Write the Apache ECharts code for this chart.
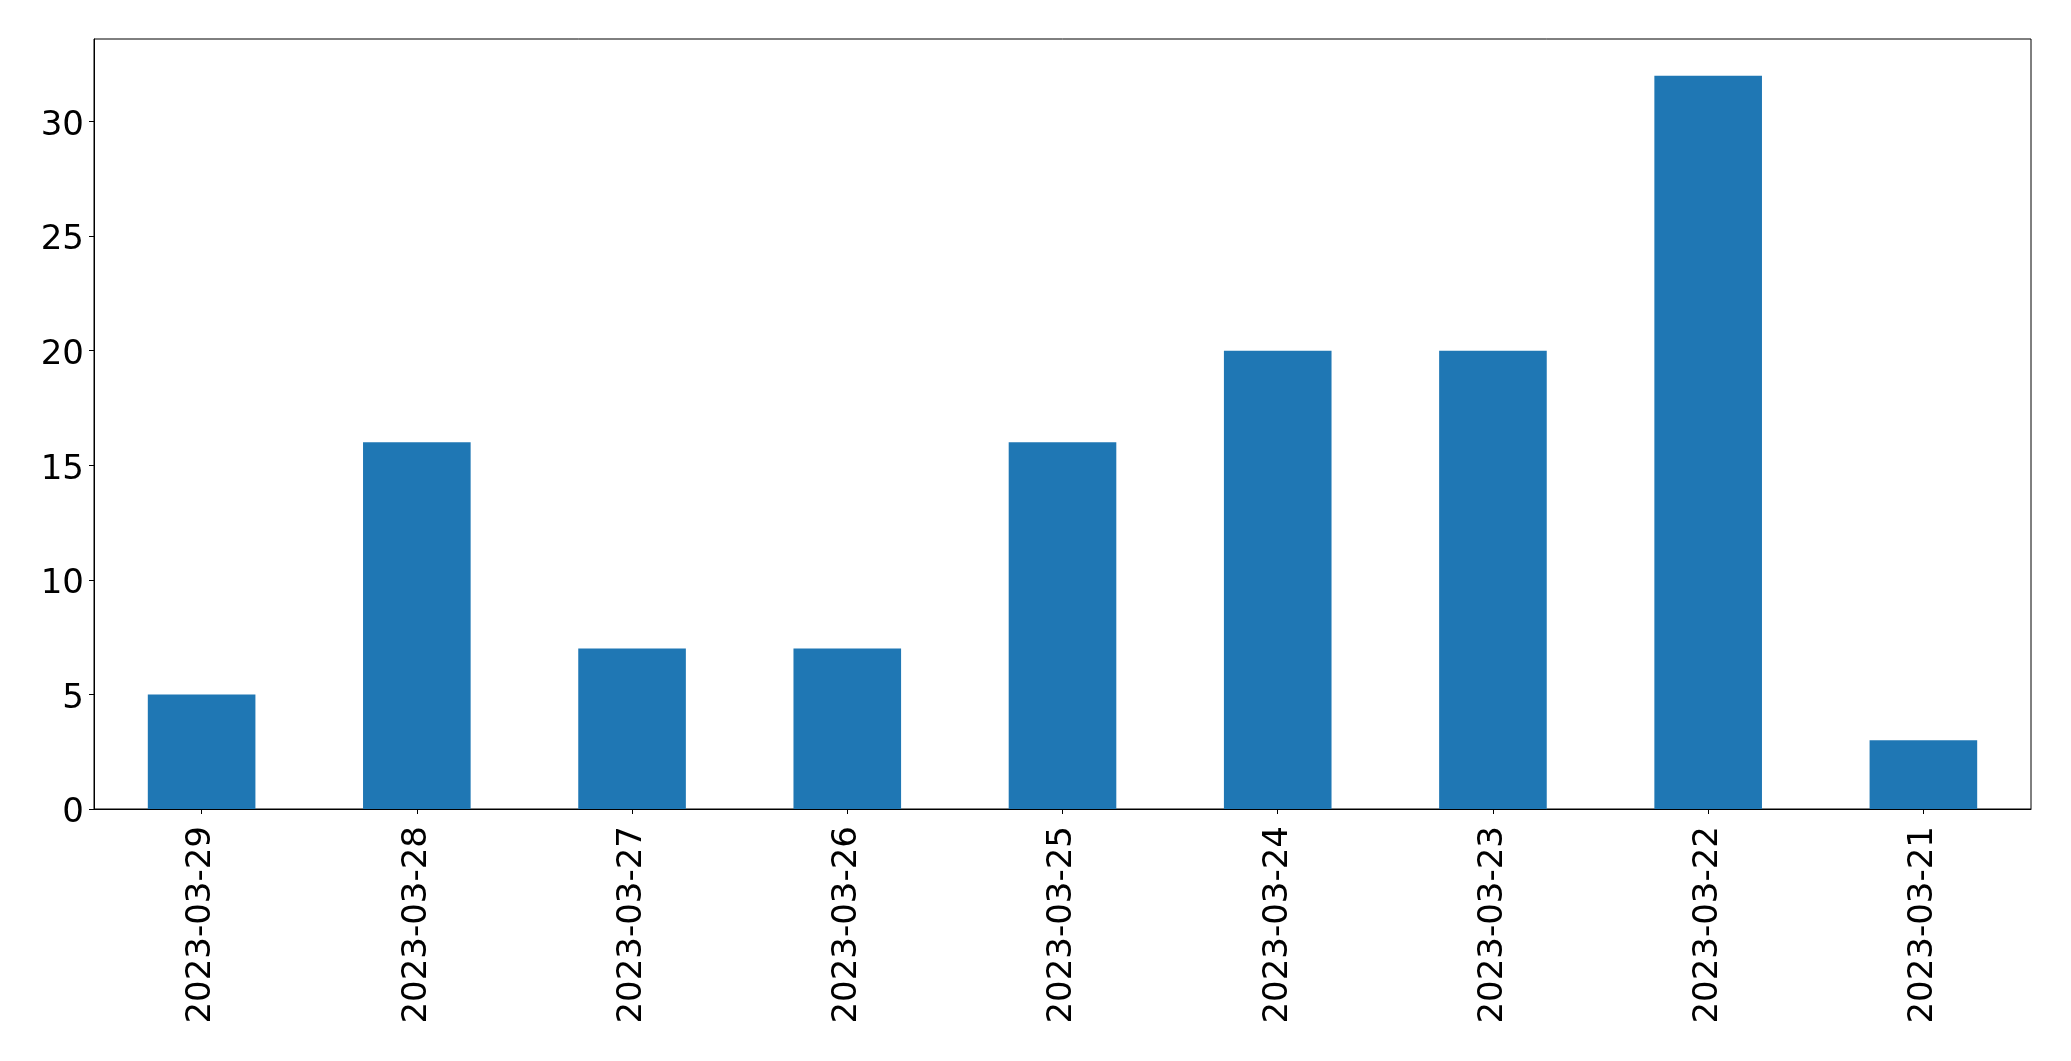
<!DOCTYPE html>
<html>
<head>
<meta charset="utf-8">
<script src="https://cdn.jsdelivr.net/npm/echarts@6/dist/echarts.min.js"></script>
<style>
html,body{margin:0;padding:0;background:#fff;}
#chart{width:2071px;height:1061px;}
</style>
</head>
<body>
<div id="chart"></div>
<script>
const categories = ['2023-03-29','2023-03-28','2023-03-27','2023-03-26','2023-03-25','2023-03-24','2023-03-23','2023-03-22','2023-03-21'];
const values = [5, 16, 7, 7, 16, 20, 20, 32, 3];
const yTicks = [0, 5, 10, 15, 20, 25, 30];

const chart = echarts.init(document.getElementById('chart'));
const font = 'DejaVu Sans';
chart.setOption({
  animation: false,
  backgroundColor: '#fff',
  grid: {
    left: 94, right: 40, top: 39, bottom: 252,
    show: true, borderColor: '#000', borderWidth: 1, backgroundColor: 'transparent'
  },
  xAxis: {
    type: 'category',
    data: categories,
    boundaryGap: true,
    axisLine: { show: true, lineStyle: { color: '#000', width: 1 } },
    axisTick: { show: true, alignWithLabel: true, length: 5, lineStyle: { color: '#000', width: 1 } },
    axisLabel: { rotate: 90, interval: 0, fontFamily: font, fontSize: 34, color: '#000', margin: 17 },
    splitLine: { show: false }
  },
  yAxis: {
    type: 'value',
    min: 0,
    max: 33.6,
    interval: 5,
    axisLine: { show: true, lineStyle: { color: '#000', width: 1 } },
    axisTick: { show: true, length: 5, lineStyle: { color: '#000', width: 1 }, customValues: yTicks },
    axisLabel: {
      fontFamily: font, fontSize: 34, color: '#000', margin: 10, customValues: yTicks,
      formatter: function (v) { return '{a|' + v + '}'; },
      rich: { a: { fontFamily: font, fontSize: 34, color: '#000', padding: [9, 0, 0, 0] } }
    },
    splitLine: { show: false }
  },
  series: [{
    type: 'bar',
    data: values,
    barWidth: '50%',
    itemStyle: { color: '#1f77b4' }
  }]
});
</script>
</body>
</html>
